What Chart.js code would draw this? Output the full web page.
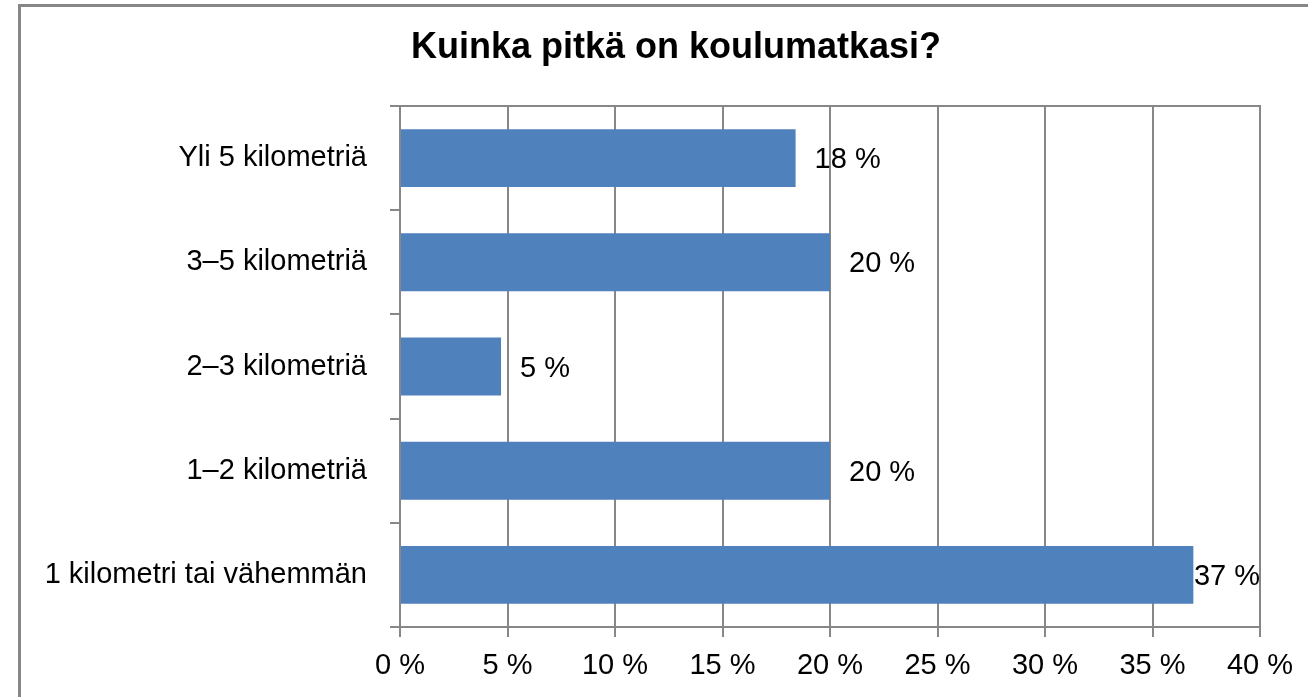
<!DOCTYPE html>
<html>
<head>
<meta charset="utf-8">
<title>Kuinka pitkä on koulumatkasi?</title>
<script src="https://cdn.jsdelivr.net/npm/chart.js@4.4.0/dist/chart.umd.min.js"></script>
<style>
  html, body { margin: 0; padding: 0; background: #fff; }
</style>
</head>
<body>
<canvas id="chart" width="1308" height="697"></canvas>
<script>
// data (share of answers, %)
const categories = ['Yli 5 kilometriä', '3–5 kilometriä', '2–3 kilometriä', '1–2 kilometriä', '1 kilometri tai vähemmän'];
const shares = [18.4, 20.0, 4.7, 20.0, 36.9];
const xTicks = [0, 5, 10, 15, 20, 25, 30, 35, 40];
const chartTitle = 'Kuinka pitkä on koulumatkasi?';

const FONT = '"Liberation Sans", Arial, sans-serif';
const GRAY = '#878787';

// outer frame, title and top edge of the plot area
const frame = {
  id: 'frame',
  beforeDraw(chart) {
    const { ctx, width, height } = chart;
    ctx.save();
    ctx.fillStyle = '#fff';
    ctx.fillRect(0, 0, width, height);
    ctx.strokeStyle = GRAY;
    ctx.lineWidth = 3;
    ctx.strokeRect(19.5, 5.5, width + 100, height + 100);
    // title sits centred on the whole frame, not on the padded layout box
    ctx.fillStyle = '#000';
    ctx.font = 'bold 36px ' + FONT;
    ctx.textAlign = 'center';
    ctx.textBaseline = 'alphabetic';
    ctx.fillText(chartTitle, 676, 58);
    ctx.restore();
  },
  afterDraw(chart) {
    const { ctx, chartArea } = chart;
    ctx.save();
    ctx.strokeStyle = GRAY;
    ctx.lineWidth = 2;
    ctx.beginPath();
    ctx.moveTo(chartArea.left, chartArea.top);
    ctx.lineTo(chartArea.right + 1, chartArea.top);
    ctx.stroke();
    ctx.restore();
  }
};

// value labels at the end of each bar, pushed inside if they would leave the plot
const barLabels = {
  id: 'barLabels',
  afterDatasetsDraw(chart) {
    const { ctx, chartArea } = chart;
    const meta = chart.getDatasetMeta(0);
    ctx.save();
    ctx.font = '29px ' + FONT;
    ctx.fillStyle = '#000';
    ctx.textBaseline = 'middle';
    meta.data.forEach((bar, i) => {
      const text = Math.round(shares[i]) + ' %';
      const w = ctx.measureText(text).width;
      let x = bar.x + 19;
      if (x + w > chartArea.right) x = chartArea.right - w;
      ctx.fillText(text, x, bar.y + 2);
    });
    ctx.restore();
  }
};

new Chart(document.getElementById('chart'), {
  type: 'bar',
  data: {
    labels: categories,
    datasets: [{
      data: shares,
      backgroundColor: '#4f81bd',
      barPercentage: 0.556,
      categoryPercentage: 1
    }]
  },
  plugins: [frame, barLabels],
  options: {
    responsive: false,
    animation: false,
    indexAxis: 'y',
    layout: { padding: { left: 0, right: 48, top: 106, bottom: 0 } },
    plugins: {
      legend: { display: false },
      tooltip: { enabled: false },
      title: { display: false }
    },
    scales: {
      x: {
        min: 0,
        max: 40,
        afterBuildTicks: scale => { scale.ticks = xTicks.map(v => ({ value: v })); },
        afterFit: scale => { scale.height = 70; },
        ticks: {
          callback: v => v + ' %',
          color: '#000',
          font: { family: FONT, size: 29 },
          padding: 12,
          maxRotation: 0,
          autoSkip: false
        },
        grid: { color: GRAY, lineWidth: 2, tickLength: 10 },
        border: { color: GRAY, width: 2 }
      },
      y: {
        afterFit: scale => { scale.width = 400; },
        ticks: {
          color: '#000',
          font: { family: FONT, size: 29 },
          padding: 23
        },
        grid: { drawOnChartArea: false, offset: true, color: GRAY, lineWidth: 2, tickLength: 10 },
        border: { color: GRAY, width: 2 }
      }
    }
  }
});
</script>
</body>
</html>
